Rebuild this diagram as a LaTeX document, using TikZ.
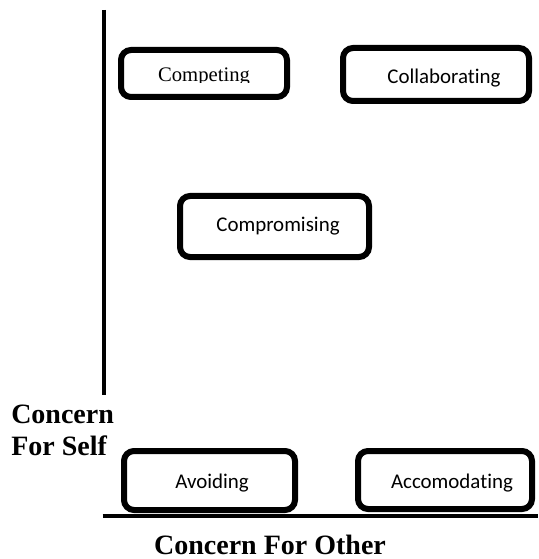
\documentclass[tikz,border=0pt]{standalone}
\usepackage{fontspec}
\setmainfont{Liberation Serif}
\newfontfamily\calfont[Ligatures=NoCommon]{Carlito}
\begin{document}
\begin{tikzpicture}[x=0.75pt,y=-0.75pt,
  axis/.style={line width=3pt},
  boxnode/.style={draw=black,line width=4.5pt,rounded corners=7.5pt,inner sep=0pt,fill=white},
  bw/.style={minimum width=#1*0.75pt},
  bh/.style={minimum height=#1*0.75pt},
  boxtext/.style={font=\calfont\fontsize{15.7}{18}\selectfont,anchor=base,inner sep=0pt},
  sertext/.style={font=\fontsize{15.5}{18}\selectfont,anchor=base,inner sep=0pt},
  axislabel/.style={font=\bfseries\fontsize{21}{24}\selectfont,inner sep=0pt}
]
\useasboundingbox (0,0) rectangle (538,559);
% axes
\coordinate (ytop) at (104,10);
\coordinate (ybot) at (104,395);
\coordinate (xl) at (102.5,516);
\coordinate (xr) at (538,516);
\draw[axis] (ytop) -- (ybot);
\draw[axis] (xl) -- (xr);
% boxes
\node[boxnode,bw=166,bh=47] (competing) at (204,73.5) {};
\node[boxnode,bw=186,bh=53] (collab) at (436,74.5) {};
\node[boxnode,bw=189,bh=61] (comprom) at (274.5,226.5) {};
\node[boxnode,bw=171,bh=59] (avoid) at (209.5,480.5) {};
\node[boxnode,bw=174,bh=58] (accom) at (445,480) {};
% texts
\begin{scope}
\clip (130,55) rectangle (280,83);
\node[sertext] (tcompeting) at (204,82) {Competing};
\end{scope}
\node[boxtext] (tcollab) at (444,84) {Collaborating};
\node[boxtext] (tcomprom) at (278,232) {Compromising};
\node[boxtext] (tavoid) at (212,488) {Avoiding};
\node[boxtext] (taccom) at (452,488) {Accomodating};
% axis labels
\node[axislabel,anchor=base west,align=left] (self) at (11,455) {Concern\\For Self};
\node[axislabel,anchor=base] (other) at (270,554) {Concern For Other};
\end{tikzpicture}
\end{document}
